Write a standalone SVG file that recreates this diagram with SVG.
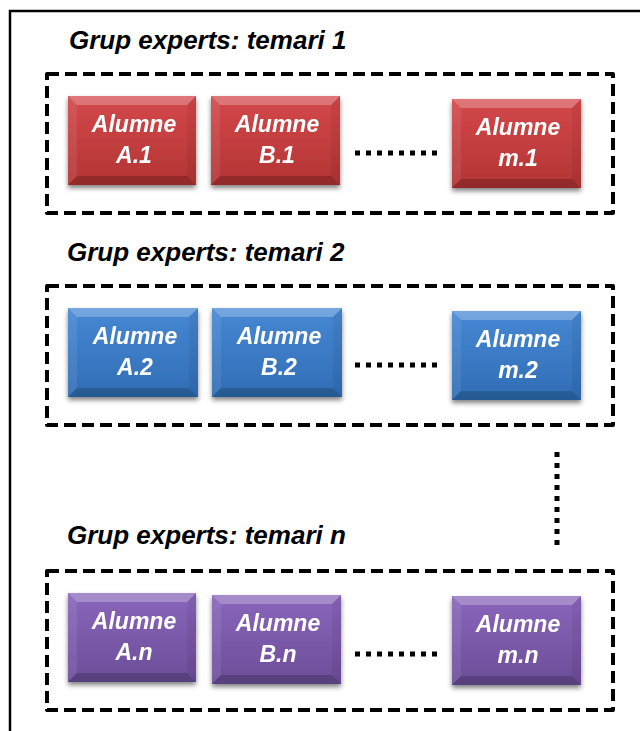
<svg xmlns="http://www.w3.org/2000/svg" width="640" height="731" viewBox="0 0 640 731">
<defs>
  <linearGradient id="gRed" x1="0" y1="0" x2="0" y2="1">
    <stop offset="0" stop-color="#d4484a"/>
    <stop offset="1" stop-color="#b33434"/>
  </linearGradient>
  <linearGradient id="gBlue" x1="0" y1="0" x2="0" y2="1">
    <stop offset="0" stop-color="#4788d4"/>
    <stop offset="1" stop-color="#306db5"/>
  </linearGradient>
  <linearGradient id="gPurple" x1="0" y1="0" x2="0" y2="1">
    <stop offset="0" stop-color="#8a66bb"/>
    <stop offset="1" stop-color="#6b4d99"/>
  </linearGradient>
  <filter id="sh" x="-20%" y="-20%" width="140%" height="150%">
    <feGaussianBlur in="SourceAlpha" stdDeviation="2.5"/>
    <feOffset dx="0" dy="3" result="b"/>
    <feComponentTransfer><feFuncA type="linear" slope="0.5"/></feComponentTransfer>
    <feMerge><feMergeNode/><feMergeNode in="SourceGraphic"/></feMerge>
  </filter>
  <symbol id="bevel" viewBox="0 0 130 89" preserveAspectRatio="none">
    <polygon points="0,0 130,0 121,9 9,9" fill="#ffffff" fill-opacity="0.25"/>
    <polygon points="0,0 9,9 9,80 0,89" fill="#ffffff" fill-opacity="0.08"/>
    <polygon points="130,0 130,89 121,80 121,9" fill="#000000" fill-opacity="0.06"/>
    <polygon points="0,89 9,80 121,80 130,89" fill="#000000" fill-opacity="0.18"/>
  </symbol>
</defs>
<style>
  .frame { fill: none; stroke: #000; stroke-width: 2.5; }
  .grp { fill: none; stroke: #000; stroke-width: 4; stroke-dasharray: 12 6; stroke-linejoin: round; }
  .title { font-family: "Liberation Sans", Arial, sans-serif; font-weight: bold; font-style: italic; font-size: 26px; fill: #000; }
  .lbl { font-family: "Liberation Sans", Arial, sans-serif; font-weight: bold; font-style: italic; font-size: 23px; fill: #fff; text-anchor: middle; }
  .dots { fill: none; stroke: #000; stroke-width: 5; stroke-dasharray: 5 6; }
  .node { filter: url(#sh); }
</style>

<g id="frame">
  <path class="frame" d="M10,731 L10,11 L640,11"/>
</g>

<g id="group1">
  <text class="title" x="69" y="49">Grup experts: temari 1</text>
  <rect class="grp" x="47" y="74" width="566" height="139"/>
</g>
<g id="group2">
  <text class="title" x="67" y="261">Grup experts: temari 2</text>
  <rect class="grp" x="47" y="286" width="566" height="139"/>
</g>
<g id="groupn">
  <text class="title" x="67" y="544">Grup experts: temari n</text>
  <rect class="grp" x="47" y="571" width="566" height="139"/>
</g>

<g id="connectors">
  <line class="dots" x1="355" y1="153" x2="440" y2="153"/>
  <line class="dots" x1="355" y1="365" x2="440" y2="365"/>
  <line class="dots" x1="355" y1="654" x2="440" y2="654"/>
  <line class="dots" x1="557" y1="452" x2="557" y2="546"/>
</g>

<g id="nodeA1" class="node">
  <rect x="68" y="96" width="128" height="89" fill="url(#gRed)"/>
  <use href="#bevel" x="68" y="96" width="128" height="89"/>
  <text class="lbl" x="134" y="132">Alumne</text><text class="lbl" x="134" y="163">A.1</text>
</g>
<g id="nodeB1" class="node">
  <rect x="211" y="96" width="129" height="89" fill="url(#gRed)"/>
  <use href="#bevel" x="211" y="96" width="129" height="89"/>
  <text class="lbl" x="277" y="132">Alumne</text><text class="lbl" x="277" y="163">B.1</text>
</g>
<g id="nodem1" class="node">
  <rect x="452" y="99" width="129" height="89" fill="url(#gRed)"/>
  <use href="#bevel" x="452" y="99" width="129" height="89"/>
  <text class="lbl" x="518" y="135">Alumne</text><text class="lbl" x="518" y="166">m.1</text>
</g>

<g id="nodeA2" class="node">
  <rect x="68" y="308" width="130" height="89" fill="url(#gBlue)"/>
  <use href="#bevel" x="68" y="308" width="130" height="89"/>
  <text class="lbl" x="135" y="344">Alumne</text><text class="lbl" x="135" y="375">A.2</text>
</g>
<g id="nodeB2" class="node">
  <rect x="212" y="308" width="130" height="89" fill="url(#gBlue)"/>
  <use href="#bevel" x="212" y="308" width="130" height="89"/>
  <text class="lbl" x="279" y="344">Alumne</text><text class="lbl" x="279" y="375">B.2</text>
</g>
<g id="nodem2" class="node">
  <rect x="452" y="311" width="129" height="89" fill="url(#gBlue)"/>
  <use href="#bevel" x="452" y="311" width="129" height="89"/>
  <text class="lbl" x="518" y="347">Alumne</text><text class="lbl" x="518" y="378">m.2</text>
</g>

<g id="nodeAn" class="node">
  <rect x="68" y="593" width="128" height="89" fill="url(#gPurple)"/>
  <use href="#bevel" x="68" y="593" width="128" height="89"/>
  <text class="lbl" x="134" y="629">Alumne</text><text class="lbl" x="134" y="660">A.n</text>
</g>
<g id="nodeBn" class="node">
  <rect x="212" y="595" width="129" height="89" fill="url(#gPurple)"/>
  <use href="#bevel" x="212" y="595" width="129" height="89"/>
  <text class="lbl" x="278" y="631">Alumne</text><text class="lbl" x="278" y="662">B.n</text>
</g>
<g id="nodemn" class="node">
  <rect x="452" y="596" width="129" height="89" fill="url(#gPurple)"/>
  <use href="#bevel" x="452" y="596" width="129" height="89"/>
  <text class="lbl" x="518" y="632">Alumne</text><text class="lbl" x="518" y="663">m.n</text>
</g>
</svg>
